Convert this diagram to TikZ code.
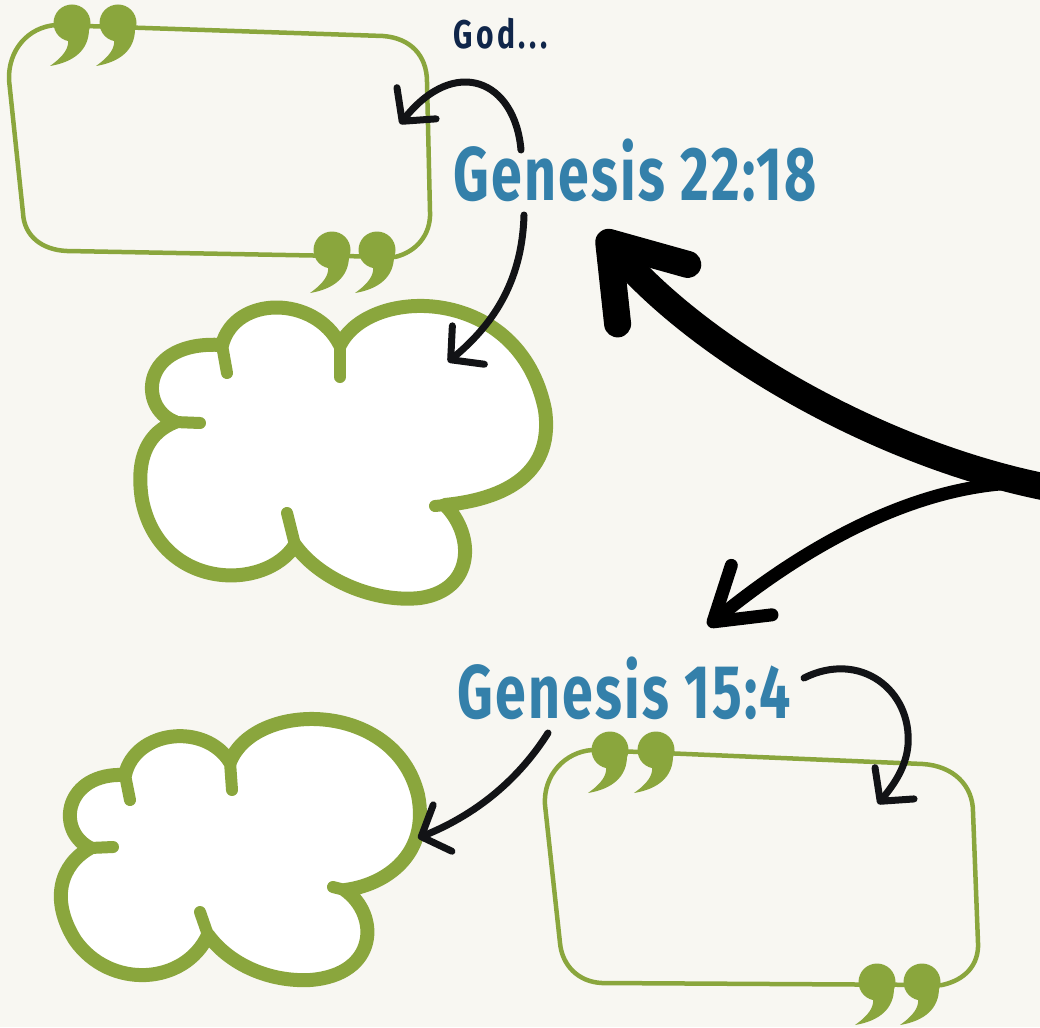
\documentclass[tikz,border=0pt]{standalone}
\usepackage{fontspec}
\usepackage{tikz}
\usetikzlibrary{arrows.meta, positioning, calc}
\newfontfamily\handfont[FakeStretch=0.73, LetterSpace=3]{Fira Sans}
\newfontfamily\godfont[FakeStretch=0.75, LetterSpace=9]{Fira Sans}
\definecolor{paper}{HTML}{F8F7F2}
\definecolor{leafgreen}{HTML}{8AA63D}
\definecolor{verseblue}{HTML}{3480AA}
\definecolor{inknavy}{HTML}{10264A}
\definecolor{inkblack}{HTML}{121316}

\tikzset{
  quotemark/.pic={
    \fill[leafgreen] (0,0) circle (18.5);
    \fill[leafgreen] (17,6) .. controls (17,27) and (2,39) .. (-22,43) .. controls (-8,33) and (-3,25) .. (-4,17) -- cycle;
  }
}

\begin{document}
\begin{tikzpicture}[
  x=1pt, y=-1pt,
  quotebox/.style={draw=leafgreen, line width=4.5pt, line join=round},
  cloud/.style={draw=leafgreen, fill=white, line width=14pt, line join=round},
  cloudtail/.style={draw=leafgreen, line width=12pt, line cap=round},
  inkarrow/.style={draw=inkblack, line width=7pt, line cap=round, -{Straight Barb[length=23pt, width=50pt, round]}},
  forkarrow/.style={draw=black, line width=13pt, line cap=round, -{Straight Barb[length=50pt, width=64pt, round]}},
  bigarrow/.style={draw=black, line width=27pt, line cap=round, -{Straight Barb[length=68pt, width=92pt, round]}},
  versetext/.style={text=verseblue, font=\handfont\bfseries\fontsize{76}{76}\selectfont, inner sep=0pt, anchor=base west},
  godtext/.style={text=inknavy, font=\godfont\bfseries\fontsize{40}{40}\selectfont, inner sep=0pt, anchor=base west}
]
  \fill[paper] (0,0) rectangle (1040,1027);
  \useasboundingbox (0,0) rectangle (1040,1027);

  \draw[quotebox] (56,25) -- (383,36) .. controls (410,38) and (427,55) .. (427,82) -- (430,212) .. controls (431,235) and (416,252) .. (395,257) -- (67,251) .. controls (42,250) and (24,236) .. (23,213) -- (9,80) .. controls (8,50) and (28,27) .. cycle;
  \pic at (72,23) {quotemark};
  \pic at (118,23) {quotemark};
  \pic at (332,250) {quotemark};
  \pic at (377,250) {quotemark};

  \draw[quotebox] (592,750) -- (923,764) .. controls (953,766) and (973,785) .. (973,812) -- (978,943) .. controls (979,965) and (965,980) .. (942,985) -- (602,983) .. controls (578,982) and (562,965) .. (560,943) -- (545,805) .. controls (543,775) and (565,752) .. cycle;
  \pic at (610,750) {quotemark};
  \pic at (656,750) {quotemark};
  \pic at (877,982) {quotemark};
  \pic at (922,982) {quotemark};

  \draw[cloud] (175,422) .. controls (138,408) and (140,340) .. (222,345)
    .. controls (235,295) and (315,295) .. (340,345)
    .. controls (370,285) and (520,285) .. (545,410)
    .. controls (555,480) and (495,500) .. (445,505)
    .. controls (475,535) and (475,590) .. (420,598)
    .. controls (375,603) and (320,580) .. (295,545)
    .. controls (265,592) and (160,590) .. (142,500)
    .. controls (135,455) and (150,432) .. cycle;
  \draw[cloudtail] (222,345) -- (227,373);
  \draw[cloudtail] (340,345) -- (340,377);
  \draw[cloudtail] (445,505) -- (435,506);
  \draw[cloudtail] (295,545) -- (287,513);
  \draw[cloudtail] (175,422) -- (200,423);

  \draw[cloud] (90,848) .. controls (55,830) and (65,772) .. (125,775)
    .. controls (135,730) and (205,722) .. (230,762)
    .. controls (255,700) and (395,700) .. (418,795)
    .. controls (430,855) and (385,885) .. (345,890)
    .. controls (380,915) and (378,975) .. (310,980)
    .. controls (270,982) and (230,965) .. (208,935)
    .. controls (185,985) and (110,990) .. (75,940)
    .. controls (50,900) and (60,865) .. cycle;
  \draw[cloudtail] (125,775) -- (130,800);
  \draw[cloudtail] (230,762) -- (232,790);
  \draw[cloudtail] (345,890) -- (333,887);
  \draw[cloudtail] (208,935) -- (200,912);
  \draw[cloudtail] (90,848) -- (113,847);

  \node[godtext] (god) at (453,49) {God...};
  \node[versetext] (gen22) at (453,200) {Genesis 22:18};
  \node[versetext] (gen15) at (457,718) {Genesis 15:4};

  \coordinate (godfrom) at (521,150);
  \coordinate (boxAto) at (400,124);
  \coordinate (gen22from) at (524,215);
  \coordinate (cloudAto) at (448,362);
  \coordinate (offpage) at (1050,488);
  \coordinate (gen22to) at (600,232);
  \coordinate (fork) at (1000,484);
  \coordinate (gen15to) at (708,626);
  \coordinate (gen15from) at (548,733);
  \coordinate (cloudBto) at (418,838);
  \coordinate (gen15side) at (804,678);
  \coordinate (boxBto) at (878,804);

  \draw[inkarrow] (godfrom) .. controls (515,80) and (455,55) .. (boxAto);
  \draw[inkarrow] (gen22from) .. controls (522,285) and (490,327) .. (cloudAto);
  \draw[bigarrow] (offpage) .. controls (880,455) and (700,350) .. (gen22to);
  \draw[forkarrow] (fork) .. controls (880,495) and (770,575) .. (gen15to);
  \draw[inkarrow] (gen15from) .. controls (515,785) and (470,817) .. (cloudBto);
  \draw[inkarrow] (gen15side) .. controls (860,650) and (912,690) .. (908,745) .. controls (906,770) and (890,789) .. (boxBto);
\end{tikzpicture}
\end{document}
